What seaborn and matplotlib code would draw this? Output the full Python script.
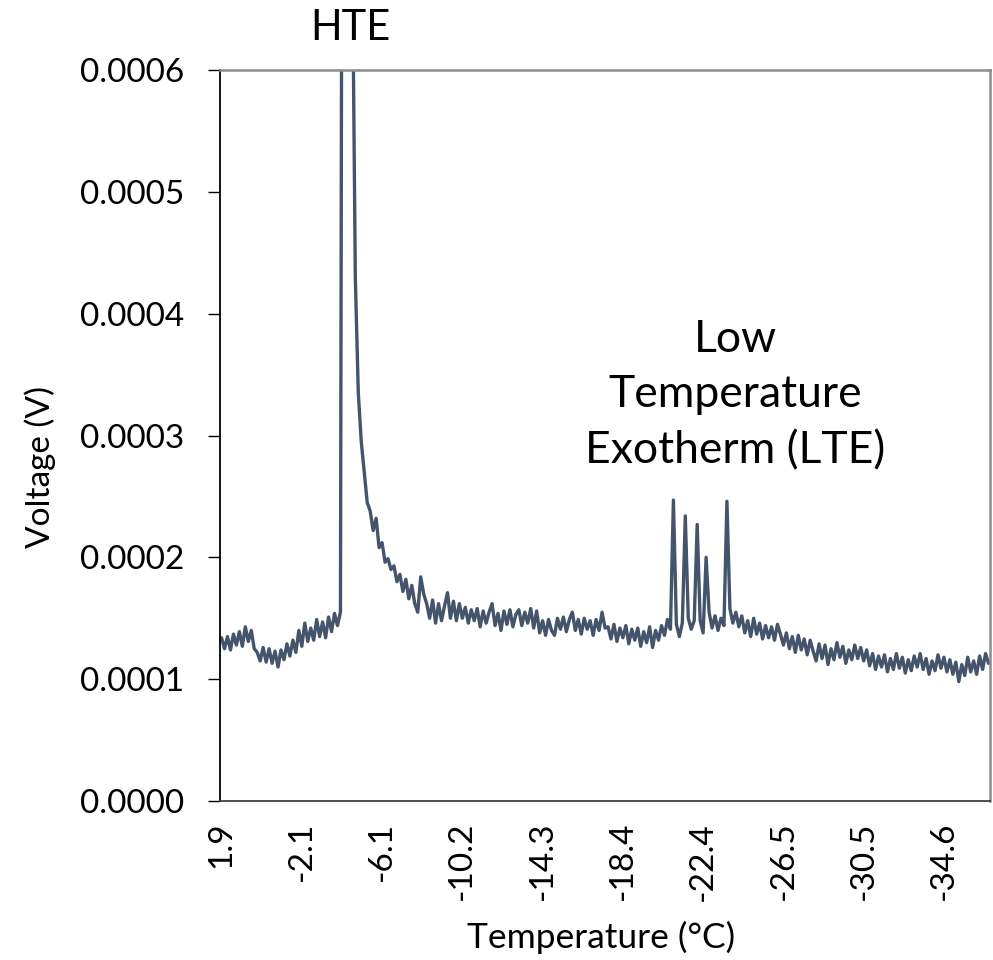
import numpy as np
import pandas as pd
import matplotlib
matplotlib.use("Agg")
import matplotlib.pyplot as plt
import seaborn as sns

voltage_e4 = [
    1.34, 1.25, 1.35, 1.24, 1.37, 1.28, 1.39, 1.27, 1.43, 1.31,
    1.40, 1.25, 1.22, 1.15, 1.26, 1.14, 1.25, 1.13, 1.23, 1.10,
    1.24, 1.16, 1.29, 1.19, 1.32, 1.22, 1.40, 1.27, 1.46, 1.31,
    1.42, 1.32, 1.49, 1.35, 1.47, 1.34, 1.51, 1.39, 1.54, 1.44,
    1.55, 14.0, 16.0, 12.0, 7.00, 4.30, 3.35, 2.95, 2.70, 2.45,
    2.38, 2.22, 2.32, 2.08, 2.12, 1.96, 1.99, 1.90, 1.93, 1.80,
    1.86, 1.72, 1.82, 1.66, 1.77, 1.62, 1.55, 1.84, 1.70, 1.62,
    1.50, 1.65, 1.46, 1.62, 1.48, 1.60, 1.71, 1.50, 1.64, 1.48,
    1.62, 1.50, 1.59, 1.46, 1.57, 1.48, 1.58, 1.43, 1.56, 1.46,
    1.55, 1.62, 1.44, 1.54, 1.40, 1.56, 1.45, 1.57, 1.43, 1.53,
    1.57, 1.44, 1.55, 1.46, 1.58, 1.42, 1.56, 1.38, 1.48, 1.36,
    1.49, 1.40, 1.36, 1.50, 1.41, 1.51, 1.39, 1.49, 1.55, 1.40,
    1.49, 1.37, 1.50, 1.41, 1.48, 1.36, 1.49, 1.40, 1.55, 1.42,
    1.43, 1.33, 1.45, 1.31, 1.42, 1.34, 1.44, 1.29, 1.41, 1.32,
    1.42, 1.27, 1.39, 1.30, 1.43, 1.26, 1.40, 1.32, 1.44, 1.36,
    1.49, 1.41, 2.47, 1.45, 1.35, 1.46, 2.34, 1.50, 1.41, 1.48,
    2.27, 1.48, 1.38, 2.00, 1.55, 1.42, 1.52, 1.40, 1.50, 1.44,
    2.46, 1.58, 1.46, 1.55, 1.43, 1.52, 1.38, 1.48, 1.35, 1.50,
    1.37, 1.46, 1.33, 1.44, 1.34, 1.43, 1.32, 1.45, 1.37, 1.28,
    1.38, 1.25, 1.35, 1.22, 1.36, 1.24, 1.33, 1.20, 1.32, 1.23,
    1.15, 1.29, 1.17, 1.28, 1.12, 1.25, 1.16, 1.30, 1.18, 1.27,
    1.13, 1.24, 1.16, 1.28, 1.17, 1.26, 1.15, 1.24, 1.11, 1.21,
    1.08, 1.19, 1.10, 1.20, 1.06, 1.17, 1.08, 1.21, 1.09, 1.18,
    1.05, 1.16, 1.07, 1.19, 1.10, 1.21, 1.08, 1.17, 1.04, 1.15,
    1.07, 1.20, 1.09, 1.18, 1.06, 1.16, 1.04, 1.14, 0.98, 1.12,
    1.03, 1.18, 1.06, 1.15, 1.04, 1.19, 1.08, 1.21, 1.13,
]

# Temperature labels shown on the category axis (every 27th sample)
temp_labels = ["1.9", "-2.1", "-6.1", "-10.2", "-14.3", "-18.4",
               "-22.4", "-26.5", "-30.5", "-34.6"]
label_step = 27

y_ticks = [0.0, 0.0001, 0.0002, 0.0003, 0.0004, 0.0005, 0.0006]

df = pd.DataFrame({
    "sample": np.arange(len(voltage_e4)),
    "voltage": np.array(voltage_e4) * 1e-4,
})

sns.set_theme(style="white")
plt.rcParams["font.family"] = ["Lato", "DejaVu Sans"]

fig = plt.figure(figsize=(9.93, 9.6), dpi=100)
ax = fig.add_axes([0.2216, 0.1656, 0.7754, 0.7615])

sns.lineplot(data=df, x="sample", y="voltage", ax=ax, color="#44546a",
             linewidth=2.4, estimator=None)

n = len(voltage_e4)
ax.set_xlim(-0.5, n - 0.5)
ax.set_ylim(0, 0.0006)

ax.set_yticks(y_ticks)
ax.set_yticklabels([f"{t:.4f}" for t in y_ticks], fontsize=24)
ax.set_xticks([i * label_step for i in range(len(temp_labels))])
ax.set_xticklabels(temp_labels, rotation=90, fontsize=24)

ax.tick_params(axis="x", length=0, pad=15, colors="black")
ax.tick_params(axis="y", left=True, length=8.6, width=1.0, pad=17,
               color="black", labelcolor="black")

ax.set_xlabel("Temperature (°C)", fontsize=25.5, color="black", va="center")
ax.set_ylabel("Voltage (V)", fontsize=24, color="black", va="center")
ax.xaxis.set_label_coords(0.495, -0.186)
ax.yaxis.set_label_coords(-0.2338, 0.457)

ax.grid(False)
for side in ["top", "right"]:
    ax.spines[side].set_color("#8c8c8c")
    ax.spines[side].set_linewidth(1.8)
ax.spines["left"].set_color("black")
ax.spines["left"].set_linewidth(1.3)
ax.spines["bottom"].set_color("#404040")
ax.spines["bottom"].set_linewidth(1.3)

fig.text(350 / 993, 1 - 28 / 960, "HTE", fontsize=30, ha="center",
         va="center", color="black")
fig.text(735 / 993, 1 - 395 / 960, "Low\nTemperature\nExotherm (LTE)",
         fontsize=32, ha="center", va="center", color="black",
         linespacing=1.45)

fig.savefig("out.png", dpi=100)
